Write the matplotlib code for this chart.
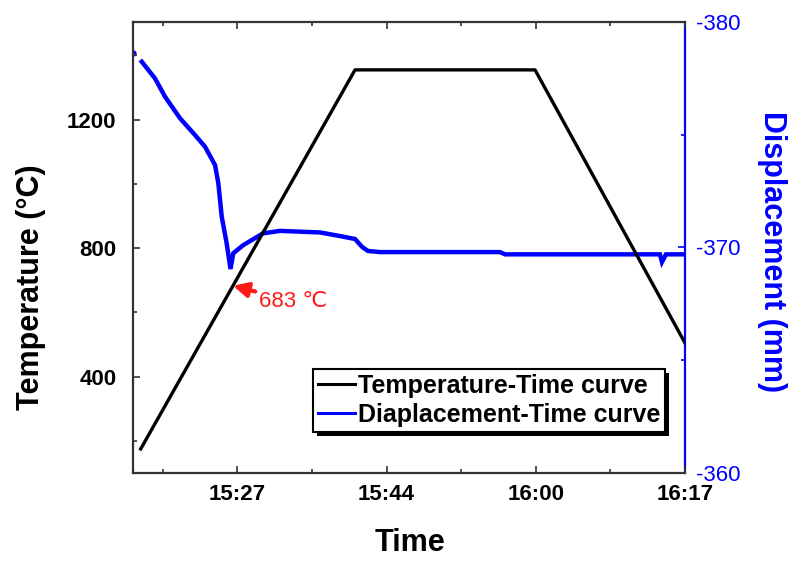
import numpy as np
import matplotlib
matplotlib.use("Agg")
import matplotlib.pyplot as plt
from matplotlib.patches import Rectangle

plt.rcParams['font.family'] = ['Liberation Sans', 'DejaVu Sans']
plt.rcParams['axes.unicode_minus'] = False

# Time axis in minutes after 15:00
time_ticks = [27.333, 44.0, 60.667, 77.333]
time_minor = [19.0, 35.667, 52.333, 69.0]
time_labels = ["15:27", "15:44", "16:00", "16:17"]
time_range = (15.667, 77.333)

# Temperature program (heating ramp, hold, cooling)
temp_time = [16.53, 40.47, 60.58, 77.33]
temp_value = [175, 1355, 1355, 505]
temp_ticks = [400, 800, 1200]
temp_minor = [200, 600, 1000, 1400]
temp_range = (100, 1505)

# Ram displacement
disp_first_time = [15.70]
disp_first_value = [-378.60]
disp_time = [16.64, 18.12, 19.24, 20.92, 22.59, 23.71, 24.83, 25.20, 25.58,
             26.13, 26.56, 26.87, 27.99, 30.19, 32.09, 36.56, 38.79, 40.47,
             41.26, 41.92, 43.26, 56.67, 57.23, 74.54, 74.76, 75.21, 77.33]
disp_value = [-378.23, -377.49, -376.68, -375.72, -374.98, -374.46, -373.65,
              -372.84, -371.36, -370.18, -369.04, -369.74, -370.10, -370.62,
              -370.73, -370.66, -370.50, -370.37, -370.02, -369.84, -369.79,
              -369.79, -369.69, -369.69, -369.35, -369.69, -369.69]
disp_ticks = [-380, -370, -360]
disp_minor = [-375, -365]
disp_range = (-360, -380)

onset_temp = 683

BLUE = "#0000ff"
RED = "#ff1a1a"
SPINE = "#333333"

fig = plt.figure(figsize=(7.95, 5.63), dpi=100)
ax = fig.add_axes([133 / 795, 1 - 473 / 563, 552 / 795, 451.3 / 563])
ax2 = ax.twinx()
ax.set_zorder(2)
ax.patch.set_visible(False)

# Displacement on the right axis
ax2.plot(disp_first_time, disp_first_value, 'o', color=BLUE, ms=3.5)
l_disp, = ax2.plot(disp_time, disp_value, color=BLUE, lw=3.2,
                   solid_joinstyle='miter', label="Diaplacement-Time curve")
ax2.set_ylim(*disp_range)
ax2.set_yticks(disp_ticks)
ax2.set_yticks(disp_minor, minor=True)
ax2.tick_params(axis='y', which='both', direction='in', colors=BLUE,
                labelsize=16, pad=8)
ax2.tick_params(axis='y', which='major', length=5, width=1.2)
ax2.tick_params(axis='y', which='minor', length=3, width=1.2)
for s in ['left', 'top', 'bottom']:
    ax2.spines[s].set_visible(False)
ax2.spines['right'].set_color(BLUE)
ax2.spines['right'].set_linewidth(1.6)
ax2.set_ylabel("Displacement (mm)", color=BLUE, fontsize=22,
               fontweight='bold', rotation=270, va='center')
ax2.yaxis.set_label_coords((772 - 133) / 552, (473 - 252) / 451.3)

# Temperature on the left axis
l_temp, = ax.plot(temp_time, temp_value, color='black', lw=2.4,
                  label="Temperature-Time curve")
ax.set_xlim(*time_range)
ax.set_ylim(*temp_range)
ax.set_xticks(time_ticks)
ax.set_xticklabels(time_labels)
ax.set_xticks(time_minor, minor=True)
ax.set_yticks(temp_ticks)
ax.set_yticks(temp_minor, minor=True)
ax.tick_params(which='both', direction='in', top=True, right=False,
               width=1.2, colors=SPINE, labelcolor='black', labelsize=16)
ax.tick_params(which='major', length=5)
ax.tick_params(which='minor', length=3)
ax.tick_params(axis='y', pad=12)
ax.tick_params(axis='x', pad=8)
for lab in ax.get_xticklabels() + ax.get_yticklabels():
    lab.set_fontweight('bold')
for s in ['left', 'top', 'bottom']:
    ax.spines[s].set_color(SPINE)
    ax.spines[s].set_linewidth(1.6)
ax.spines['right'].set_visible(False)

ax.set_xlabel("Time", fontsize=22, fontweight='bold', va='center')
ax.xaxis.set_label_coords((410 - 133) / 552, (473 - 543) / 451.3)
ax.set_ylabel("Temperature (°C)", fontsize=22, fontweight='bold', va='center')
ax.yaxis.set_label_coords((31 - 133) / 552, (473 - 287) / 451.3)

# Onset point on the heating ramp
t_onset = np.interp(onset_temp, temp_value[:2], temp_time[:2])
ax.annotate(f"{onset_temp} ℃", xy=(t_onset, onset_temp),
            xytext=(19, -11), textcoords='offset points',
            color=RED, fontsize=16, ha='left', va='center',
            arrowprops=dict(arrowstyle='-|>', color=RED, lw=3,
                            mutation_scale=22, shrinkA=1, shrinkB=0,
                            relpos=(0.0, 0.9)))

leg = ax.legend(handles=[l_temp, l_disp], loc='lower right',
                bbox_to_anchor=((665 - 133) / 552, (473 - 432) / 451.3),
                borderaxespad=0, prop={'weight': 'bold', 'size': 18},
                frameon=True, fancybox=False, edgecolor='black',
                facecolor='white', framealpha=1.0,
                handlelength=1.5, handletextpad=0.1, borderpad=0.2,
                labelspacing=0.2)
leg.get_frame().set_linewidth(1.5)
leg.set_zorder(6)
for hl in leg.get_lines():
    hl.set_linewidth(2.2)

# Drop shadow behind the legend box
fig.canvas.draw()
bb = leg.get_window_extent()
shadow = Rectangle((bb.x0 + 4, bb.y0 - 4), bb.width, bb.height,
                   transform=None, facecolor='black', edgecolor='none',
                   zorder=5, clip_on=False)
ax.add_artist(shadow)

fig.savefig("out.png", dpi=100)
